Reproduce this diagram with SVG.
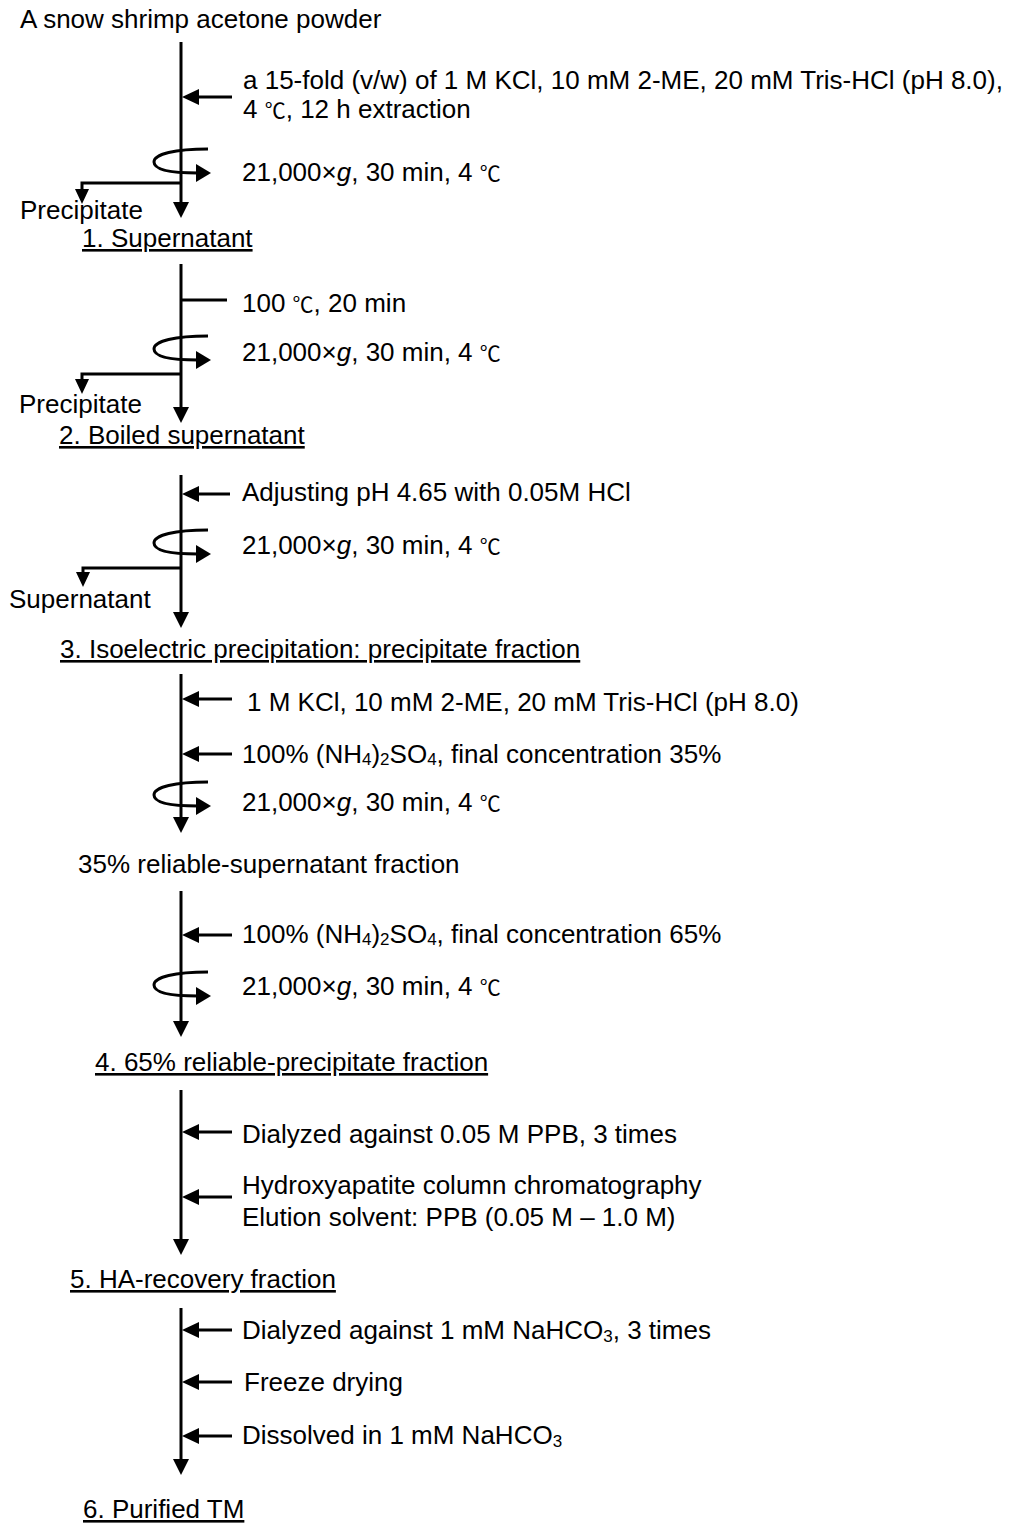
<svg xmlns="http://www.w3.org/2000/svg" xmlns:xlink="http://www.w3.org/1999/xlink" width="1016" height="1523" viewBox="0 0 1016 1523">
<style>
  text { font-family: "Liberation Sans", Arial, sans-serif; font-size: 26px; fill: #000; }
  .u { text-decoration: underline; text-underline-offset: 5px; }
  .deg { font-family: "Noto Sans CJK JP", "Liberation Sans", sans-serif; font-size: 21px; }
  .sub { font-size: 17px; }
  .ln { stroke: #000; stroke-width: 3; fill: none; }
  .hd { fill: #000; stroke: none; }
</style>
<defs>
  <path id="ahL" class="hd" d="M0,0 L17,-8 L17,8 Z"/>
  <path id="ahD" class="hd" d="M0,0 L-8,-16 L8,-16 Z"/>
  <path id="ahB" class="hd" d="M0,0 L-7,-15 L7,-15 Z"/>
  <g id="cent">
    <path class="ln" d="M27,-24 C-6,-24 -27,-19 -27,-11 C-27,-3 -10,0 17,0"/>
    <path class="hd" d="M30,0 L15,-9 L15,9 Z"/>
  </g>
</defs>
<rect width="1016" height="1523" fill="#fff"/>

<g id="connectors">
  <!-- trunks -->
  <line class="ln" x1="181" y1="42" x2="181" y2="206"/><use href="#ahD" x="181" y="218"/>
  <line class="ln" x1="181" y1="264" x2="181" y2="411"/><use href="#ahD" x="181" y="423"/>
  <line class="ln" x1="181" y1="475" x2="181" y2="616"/><use href="#ahD" x="181" y="628"/>
  <line class="ln" x1="181" y1="674" x2="181" y2="821"/><use href="#ahD" x="181" y="833"/>
  <line class="ln" x1="181" y1="891" x2="181" y2="1025"/><use href="#ahD" x="181" y="1037"/>
  <line class="ln" x1="181" y1="1090" x2="181" y2="1243"/><use href="#ahD" x="181" y="1255"/>
  <line class="ln" x1="181" y1="1308" x2="181" y2="1463"/><use href="#ahD" x="181" y="1475"/>
  <!-- reagent arrows -->
  <line class="ln" x1="232" y1="97" x2="190" y2="97"/><use href="#ahL" x="182" y="97"/>
  <line class="ln" x1="181" y1="300" x2="227" y2="300"/>
  <line class="ln" x1="230" y1="494" x2="190" y2="494"/><use href="#ahL" x="182" y="494"/>
  <line class="ln" x1="232" y1="699" x2="190" y2="699"/><use href="#ahL" x="182" y="699"/>
  <line class="ln" x1="232" y1="754" x2="190" y2="754"/><use href="#ahL" x="182" y="754"/>
  <line class="ln" x1="232" y1="935" x2="190" y2="935"/><use href="#ahL" x="182" y="935"/>
  <line class="ln" x1="232" y1="1132" x2="190" y2="1132"/><use href="#ahL" x="182" y="1132"/>
  <line class="ln" x1="232" y1="1197" x2="190" y2="1197"/><use href="#ahL" x="182" y="1197"/>
  <line class="ln" x1="232" y1="1330" x2="190" y2="1330"/><use href="#ahL" x="182" y="1330"/>
  <line class="ln" x1="232" y1="1382" x2="190" y2="1382"/><use href="#ahL" x="182" y="1382"/>
  <line class="ln" x1="232" y1="1436" x2="190" y2="1436"/><use href="#ahL" x="182" y="1436"/>
  <!-- centrifugation -->
  <use href="#cent" x="181" y="173"/>
  <use href="#cent" x="181" y="360"/>
  <use href="#cent" x="181" y="554"/>
  <use href="#cent" x="181" y="806"/>
  <use href="#cent" x="181" y="996"/>
  <!-- side branches -->
  <polyline class="ln" points="181,183 82,183 82,192"/><use href="#ahB" x="82" y="204"/>
  <polyline class="ln" points="181,374 82,374 82,382"/><use href="#ahB" x="82" y="394"/>
  <polyline class="ln" points="181,568 83,568 83,575"/><use href="#ahB" x="83" y="587"/>
</g>

<g id="n-start"><text x="20" y="28">A snow shrimp acetone powder</text></g>
<g id="n-extract">
  <text x="243" y="89">a 15-fold (v/w) of 1 M KCl, 10 mM 2-ME, 20 mM Tris-HCl (pH 8.0),</text>
  <text x="243" y="118">4 <tspan class="deg">℃</tspan>, 12 h extraction</text>
</g>
<g id="n-cent1"><text x="242" y="181">21,000×<tspan font-style="italic">g</tspan>, 30 min, 4 <tspan class="deg">℃</tspan></text></g>
<g id="n-ppt1"><text x="20" y="219">Precipitate</text></g>
<g id="n-step1"><text class="u" x="82" y="247">1. Supernatant</text></g>

<g id="n-boil"><text x="242" y="312">100 <tspan class="deg">℃</tspan>, 20 min</text></g>
<g id="n-cent2"><text x="242" y="361">21,000×<tspan font-style="italic">g</tspan>, 30 min, 4 <tspan class="deg">℃</tspan></text></g>
<g id="n-ppt2"><text x="19" y="413">Precipitate</text></g>
<g id="n-step2"><text class="u" x="59" y="444">2. Boiled supernatant</text></g>

<g id="n-ph"><text x="242" y="501">Adjusting pH 4.65 with 0.05M HCl</text></g>
<g id="n-cent3"><text x="242" y="554">21,000×<tspan font-style="italic">g</tspan>, 30 min, 4 <tspan class="deg">℃</tspan></text></g>
<g id="n-sup3"><text x="9" y="608">Supernatant</text></g>
<g id="n-step3"><text class="u" x="60" y="658">3. Isoelectric precipitation: precipitate fraction</text></g>

<g id="n-buffer"><text x="247" y="711">1 M KCl, 10 mM 2-ME, 20 mM Tris-HCl (pH 8.0)</text></g>
<g id="n-as35"><text x="242" y="763">100% (NH<tspan class="sub" dy="2">4</tspan><tspan dy="-2">)</tspan><tspan class="sub" dy="2">2</tspan><tspan dy="-2">SO</tspan><tspan class="sub" dy="2">4</tspan><tspan dy="-2">, final concentration 35%</tspan></text></g>
<g id="n-cent4"><text x="242" y="811">21,000×<tspan font-style="italic">g</tspan>, 30 min, 4 <tspan class="deg">℃</tspan></text></g>
<g id="n-frac35"><text x="78" y="873">35% reliable-supernatant fraction</text></g>

<g id="n-as65"><text x="242" y="943">100% (NH<tspan class="sub" dy="2">4</tspan><tspan dy="-2">)</tspan><tspan class="sub" dy="2">2</tspan><tspan dy="-2">SO</tspan><tspan class="sub" dy="2">4</tspan><tspan dy="-2">, final concentration 65%</tspan></text></g>
<g id="n-cent5"><text x="242" y="995">21,000×<tspan font-style="italic">g</tspan>, 30 min, 4 <tspan class="deg">℃</tspan></text></g>
<g id="n-step4"><text class="u" x="95" y="1071">4. 65% reliable-precipitate fraction</text></g>

<g id="n-dial1"><text x="242" y="1143">Dialyzed against 0.05 M PPB, 3 times</text></g>
<g id="n-ha">
  <text x="242" y="1194">Hydroxyapatite column chromatography</text>
  <text x="242" y="1226">Elution solvent: PPB (0.05 M – 1.0 M)</text>
</g>
<g id="n-step5"><text class="u" x="70" y="1288">5. HA-recovery fraction</text></g>

<g id="n-dial2"><text x="242" y="1339">Dialyzed against 1 mM NaHCO<tspan class="sub" dy="3">3</tspan><tspan dy="-3">, 3 times</tspan></text></g>
<g id="n-freeze"><text x="244" y="1391">Freeze drying</text></g>
<g id="n-diss"><text x="242" y="1444">Dissolved in 1 mM NaHCO<tspan class="sub" dy="3">3</tspan></text></g>
<g id="n-step6"><text class="u" x="83" y="1518">6. Purified TM</text></g>
</svg>
